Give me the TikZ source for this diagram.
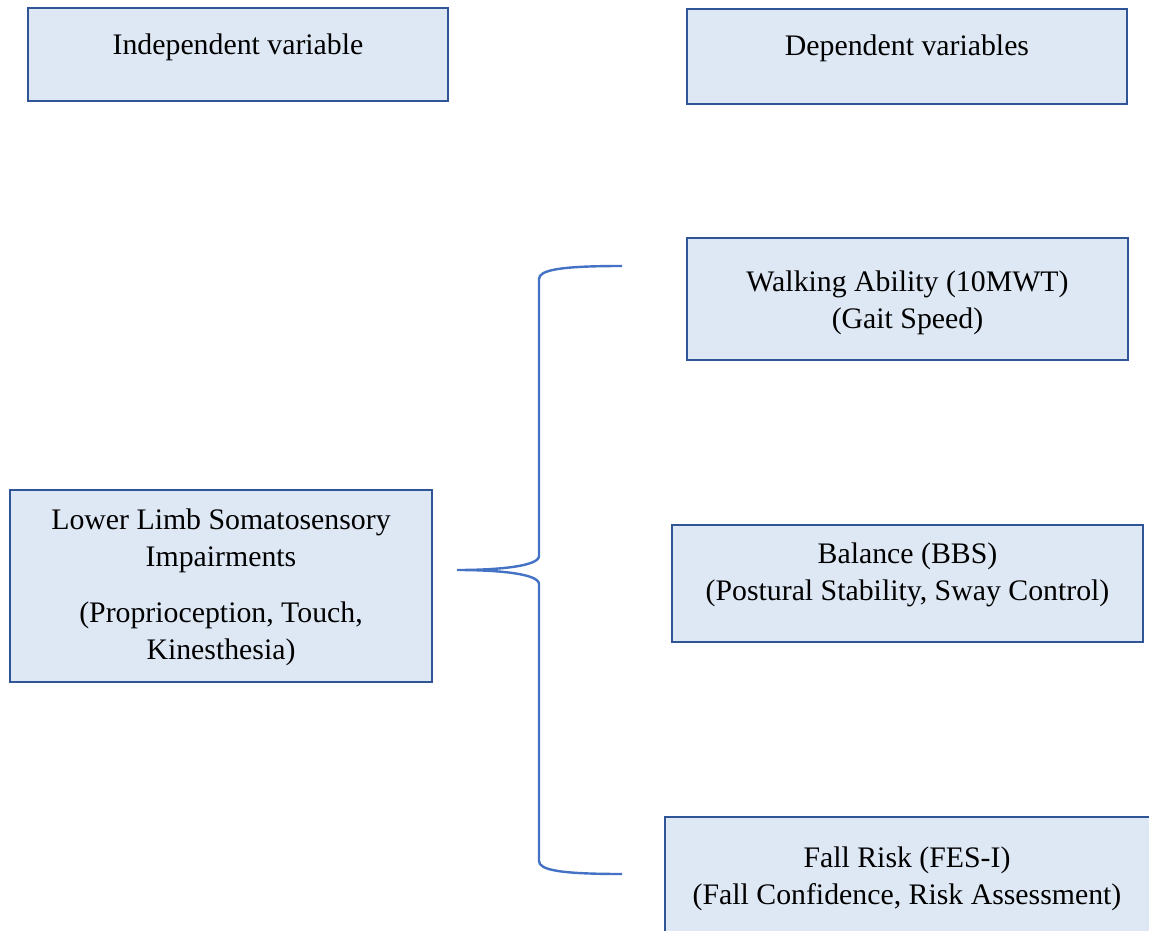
\documentclass[tikz,border=0pt]{standalone}
\usepackage{fontspec}
\setmainfont{Liberation Serif}
\definecolor{boxfill}{HTML}{DEE8F4}
\definecolor{boxline}{HTML}{2F5597}
\definecolor{bracecol}{HTML}{4472C4}
\begin{document}
\begin{tikzpicture}[x=1pt,y=-1pt,
  box/.style={draw=boxline,fill=boxfill,line width=2pt,rectangle,inner sep=0pt},
  txt/.style={align=center,inner sep=0pt,font=\fontsize{29.8}{37}\selectfont},
  bracestyle/.style={draw=bracecol,line width=2.4pt}]
\useasboundingbox (0,0) rectangle (1149,931);
\clip (0,0) rectangle (1149,931);
% boxes
\node[box,minimum width=420pt,minimum height=93pt] (ind) at (238,54.5) {};
\node[txt] (indt) at (238,47.5) {Independent variable};
\node[box,minimum width=440pt,minimum height=95pt] (dep) at (907,56.5) {};
\node[txt] (dept) at (907,48.5) {Dependent variables};
\node[box,minimum width=441pt,minimum height=122pt] (walk) at (907.5,299) {};
\node[txt] (walkt) at (907.5,303) {Walking Ability (10MWT)\\(Gait Speed)};
\node[box,minimum width=471pt,minimum height=117pt] (bal) at (907.5,583.5) {};
\node[txt] (balt) at (907.5,574.5) {Balance (BBS)\\(Postural Stability, Sway Control)};
\node[box,minimum width=500pt,minimum height=140pt] (fall) at (915,887) {};
\node[txt] (fallt) at (907,879) {Fall Risk (FES-I)\\(Fall Confidence, Risk Assessment)};
\node[box,minimum width=422pt,minimum height=192pt] (low) at (221,586) {};
\node[txt] (lowt) at (221,587.5) {Lower Limb Somatosensory\\Impairments\\[19pt](Proprioception, Touch,\\Kinesthesia)};
% brace
\coordinate (tip) at (457,570);
\coordinate (btop) at (622,266);
\coordinate (bbot) at (622,874);
\draw[bracestyle] (btop) .. controls (560,266) and (539,270) .. (539,279)
  -- (539,556) .. controls (539,566) and (500,570) .. (tip)
  .. controls (500,570) and (539,574) .. (539,584)
  -- (539,861) .. controls (539,870) and (560,874) .. (bbot);
\end{tikzpicture}
\end{document}
